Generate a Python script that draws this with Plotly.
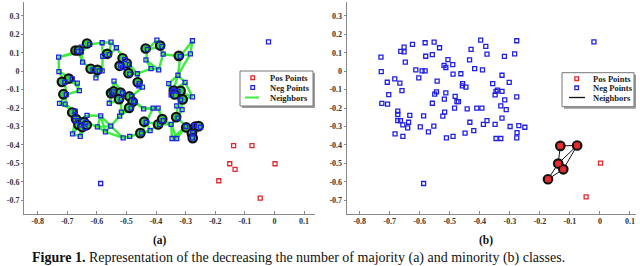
import numpy as np
import plotly.graph_objects as go

# ---------------- data ----------------
neg_x = [-0.729, -0.728, -0.708, -0.703, -0.726, -0.707, -0.683, -0.666, -0.659, -0.663,
         -0.652, -0.652, -0.648, -0.624, -0.582, -0.552, -0.534, -0.558, -0.580, -0.613,
         -0.592, -0.582, -0.603, -0.542, -0.544, -0.550, -0.513, -0.519, -0.513, -0.506,
         -0.490, -0.489, -0.463, -0.458, -0.457, -0.446, -0.434, -0.429, -0.417, -0.397,
         -0.380, -0.376, -0.391, -0.357, -0.346, -0.341, -0.349, -0.326, -0.318, -0.284,
         -0.277, -0.302, -0.326, -0.317, -0.312, -0.330, -0.277, -0.270, -0.276, -0.277,
         -0.250, -0.299, -0.326, -0.349, -0.346, -0.330, -0.376, -0.388, -0.393, -0.410,
         -0.420, -0.433, -0.442, -0.449, -0.471, -0.476, -0.482, -0.484, -0.489, -0.511,
         -0.518, -0.517, -0.523, -0.553, -0.558, -0.571, -0.587, -0.598, -0.633, -0.637,
         -0.640, -0.656, -0.656, -0.664, -0.673, -0.673, -0.673, -0.682, -0.587, -0.020]
neg_y = [0.076, -0.002, -0.060, -0.127, -0.175, -0.179, -0.042, -0.065, -0.105, 0.107,
         0.130, 0.105, 0.049, 0.145, 0.154, 0.157, 0.127, 0.090, 0.081, 0.007,
         0.002, 0.002, -0.036, -0.054, -0.112, -0.125, -0.118, 0.031, 0.020, 0.063,
         0.036, -0.016, -0.014, -0.080, -0.067, -0.087, 0.061, 0.118, 0.014, 0.168,
         0.134, 0.092, 0.007, -0.067, -0.110, -0.103, -0.128, -0.022, 0.080, 0.094,
         0.165, -0.061, -0.110, -0.156, -0.208, -0.188, -0.139, -0.295, -0.333, -0.362,
         -0.304, -0.300, -0.255, -0.288, -0.365, -0.365, -0.268, -0.288, -0.200, -0.200,
         -0.322, -0.277, -0.204, -0.336, -0.165, -0.165, -0.137, -0.200, -0.354, -0.362,
         -0.152, -0.222, -0.244, -0.298, -0.174, -0.329, -0.242, -0.302, -0.240, -0.277,
         -0.307, -0.291, -0.354, -0.268, -0.217, -0.235, -0.268, -0.340, -0.609, 0.159]

pos_a_x = [-0.138, -0.076, -0.151, -0.133, -0.188, 0.002, -0.048, -0.158]
pos_a_y = [-0.404, -0.404, -0.502, -0.532, -0.594, -0.502, -0.688, -0.790]
pos_b_x = [-0.132, -0.076, -0.139, -0.122, -0.173, 0.002, -0.046, -0.158]
pos_b_y = [-0.405, -0.403, -0.501, -0.532, -0.586, -0.499, -0.682, -0.790]

# majority points highlighted in (a)
circ_a_x = [-0.633, -0.672, -0.661, -0.565, -0.513, -0.499, -0.523, -0.493, -0.621, -0.598,
            -0.435, -0.386, -0.323, -0.695, -0.718, -0.713, -0.462, -0.552, -0.543, -0.520,
            -0.525, -0.490, -0.479, -0.491, -0.340, -0.317, -0.337, -0.310, -0.683, -0.670,
            -0.662, -0.644, -0.649, -0.634, -0.440, -0.453, -0.393, -0.379, -0.332, -0.298,
            -0.267, -0.256, -0.279, -0.276]
circ_a_y = [0.150, 0.112, 0.112, 0.094, 0.070, 0.043, 0.029, -0.011, 0.013, 0.007,
            0.123, 0.139, 0.083, -0.040, -0.058, -0.125, -0.060, -0.119, -0.110, -0.116,
            -0.152, -0.137, -0.166, -0.199, -0.105, -0.107, -0.126, -0.153, -0.224, -0.260,
            -0.291, -0.276, -0.303, -0.292, -0.274, -0.336, -0.289, -0.260, -0.249, -0.305,
            -0.300, -0.298, -0.338, -0.363]

# highlighted minority points in (b) = first five of pos_b, with their links
circ_b_count = 5
edges_b = [(0, 1), (0, 2), (1, 2), (1, 3), (2, 3), (2, 4), (3, 4)]

x_ticks = [-0.8, -0.7, -0.6, -0.5, -0.4, -0.3, -0.2, -0.1, 0.0, 0.1]
x_tick_labels = ["-0.8", "-0.7", "-0.6", "-0.5", "-0.4", "-0.3", "-0.2", "-0.1", "0", "0.1"]
y_ticks = [0.3, 0.2, 0.1, 0.0, -0.1, -0.2, -0.3, -0.4, -0.5, -0.6, -0.7]
y_tick_labels = ["0.3", "0.2", "0.1", "0", "-0.1", "-0.2", "-0.3", "-0.4", "-0.5", "-0.6", "-0.7"]

legend_labels = ["Pos Points", "Neg Points", "Neighbors"]
caption = "<b>Figure 1.</b> Representation of the decreasing the number of majority (a) and minority (b) classes."

# ---------------- styles ----------------
W, H = 640, 266
BLUE = "#1f1fe6"
RED = "#e8262b"
GREEN = "#3ded3d"
SERIF = "Liberation Serif"


def px(x, y):
    return x / W, 1 - y / H


# neighbour links among majority points (a): nearest neighbours in screen space
nx = np.array(neg_x)
ny = np.array(neg_y)
P = np.column_stack([nx * 298, ny * 184])
edges_a = set()
for i in range(len(P)):
    d = np.hypot(*(P - P[i]).T)
    for j in np.argsort(d)[1:4]:
        if d[j] < 28:
            edges_a.add(tuple(sorted((i, int(j)))))
ea_x, ea_y = [], []
for i, j in sorted(edges_a):
    ea_x += [neg_x[i], neg_x[j], None]
    ea_y += [neg_y[i], neg_y[j], None]

eb_x, eb_y = [], []
for i, j in edges_b:
    eb_x += [pos_b_x[i], pos_b_x[j], None]
    eb_y += [pos_b_y[i], pos_b_y[j], None]

fig = go.Figure()

sq = dict(symbol="square-open", size=4, line=dict(width=1.3))

# panel (a)
fig.add_trace(go.Scatter(x=ea_x, y=ea_y, mode="lines", line=dict(color=GREEN, width=2.4),
                         xaxis="x", yaxis="y", showlegend=False, hoverinfo="skip"))
fig.add_trace(go.Scatter(x=circ_a_x, y=circ_a_y, mode="markers",
                         marker=dict(symbol="circle", size=8.5, color="#33cc44",
                                     line=dict(color="#111", width=2.2)),
                         xaxis="x", yaxis="y", showlegend=False))
fig.add_trace(go.Scatter(x=neg_x, y=neg_y, mode="markers", marker=dict(color=BLUE, **sq),
                         xaxis="x", yaxis="y", showlegend=False))
fig.add_trace(go.Scatter(x=pos_a_x, y=pos_a_y, mode="markers", marker=dict(color=RED, **sq),
                         xaxis="x", yaxis="y", showlegend=False))

# panel (b)
fig.add_trace(go.Scatter(x=eb_x, y=eb_y, mode="lines", line=dict(color="#111", width=1),
                         xaxis="x2", yaxis="y2", showlegend=False, hoverinfo="skip"))
fig.add_trace(go.Scatter(x=pos_b_x[:circ_b_count], y=pos_b_y[:circ_b_count], mode="markers",
                         marker=dict(symbol="circle", size=8.5, color="#e03535",
                                     line=dict(color="#111", width=2.2)),
                         xaxis="x2", yaxis="y2", showlegend=False))
fig.add_trace(go.Scatter(x=neg_x, y=neg_y, mode="markers", marker=dict(color=BLUE, **sq),
                         xaxis="x2", yaxis="y2", showlegend=False))
fig.add_trace(go.Scatter(x=pos_b_x, y=pos_b_y, mode="markers", marker=dict(color=RED, **sq),
                         xaxis="x2", yaxis="y2", showlegend=False))

tickfont = dict(family=SERIF, size=8, color="#333", weight="bold")
xcommon = dict(tickmode="array", tickvals=x_ticks, ticktext=x_tick_labels, showgrid=False,
               zeroline=False, showline=True, linecolor="#888", linewidth=1,
               ticks="inside", ticklen=3, tickcolor="#888", tickfont=tickfont,
               ticklabelstandoff=-1)
ycommon = dict(tickmode="array", tickvals=y_ticks, ticktext=y_tick_labels, showgrid=False,
               zeroline=False, showline=True, linecolor="#888", linewidth=1,
               ticks="outside", ticklen=2, tickcolor="#888", tickfont=tickfont,
               range=[-0.776, 0.375])

fig.update_layout(
    width=W, height=H, margin=dict(l=0, r=0, t=0, b=0),
    paper_bgcolor="white", plot_bgcolor="white", showlegend=False,
    xaxis=dict(domain=[24 / W, 315 / W], range=[-0.846, 0.137], anchor="y", **xcommon),
    yaxis=dict(domain=[1 - 214.3 / H, 1 - 2 / H], anchor="x", **ycommon),
    xaxis2=dict(domain=[346.7 / W, 636 / W], range=[-0.843, 0.12], anchor="y2", **xcommon),
    yaxis2=dict(domain=[1 - 214.3 / H, 1 - 2 / H], anchor="x2", **ycommon),
)

shapes = []
annotations = []


def add_legend(x0, y0, x1, y1, sym_x, line_x0, line_x1, text_x, rows, line_color):
    # shadow + box
    a0, b0 = px(x0 + 2, y1 + 2)
    a1, b1 = px(x1 + 2, y0 + 2)
    shapes.append(dict(type="rect", xref="paper", yref="paper", x0=a0, y0=b0, x1=a1, y1=b1,
                       fillcolor="#9a9a9a", line=dict(width=0), layer="above"))
    a0, b0 = px(x0, y1)
    a1, b1 = px(x1, y0)
    shapes.append(dict(type="rect", xref="paper", yref="paper", x0=a0, y0=b0, x1=a1, y1=b1,
                       fillcolor="white", line=dict(color="#777", width=1), layer="above"))
    for col, ry in zip([RED, BLUE], rows[:2]):
        s0, t0 = px(sym_x - 1.8, ry + 1.8)
        s1, t1 = px(sym_x + 1.8, ry - 1.8)
        shapes.append(dict(type="rect", xref="paper", yref="paper", x0=s0, y0=t0, x1=s1, y1=t1,
                           fillcolor="white", line=dict(color=col, width=1.3), layer="above"))
    l0, ly = px(line_x0, rows[2])
    l1, _ = px(line_x1, rows[2])
    shapes.append(dict(type="line", xref="paper", yref="paper", x0=l0, y0=ly, x1=l1, y1=ly,
                       line=dict(color=line_color, width=2 if line_color == GREEN else 1.3),
                       layer="above"))
    for lab, ry in zip(legend_labels, rows):
        tx, ty = px(text_x, ry)
        annotations.append(dict(text="<b>" + lab + "</b>", x=tx, y=ty, xref="paper", yref="paper",
                                xanchor="left", yanchor="middle", showarrow=False,
                                font=dict(family=SERIF, size=8.5, color="#222")))


add_legend(240, 71, 313, 106, 252.7, 245, 259, 268, [77.7, 87.5, 97.5], GREEN)
add_legend(562, 72.7, 634, 106.7, 576.7, 569, 585, 591, [78.7, 87.8, 97.5], "#111")

for lab, xx in [("(a)", 160), ("(b)", 486)]:
    tx, ty = px(xx, 240.5)
    annotations.append(dict(text="<b>" + lab + "</b>", x=tx, y=ty, xref="paper", yref="paper",
                            xanchor="center", yanchor="middle", showarrow=False,
                            font=dict(family=SERIF, size=11.5, color="#111")))

tx, ty = px(30, 257.5)
annotations.append(dict(text=caption, x=tx, y=ty, xref="paper", yref="paper",
                        xanchor="left", yanchor="middle", showarrow=False,
                        font=dict(family=SERIF, size=14, color="#111")))

fig.update_layout(shapes=shapes, annotations=annotations)
fig.write_html("out.html", config={"displayModeBar": False},
               post_script="document.body.style.margin='0';document.body.style.overflow='hidden';")
